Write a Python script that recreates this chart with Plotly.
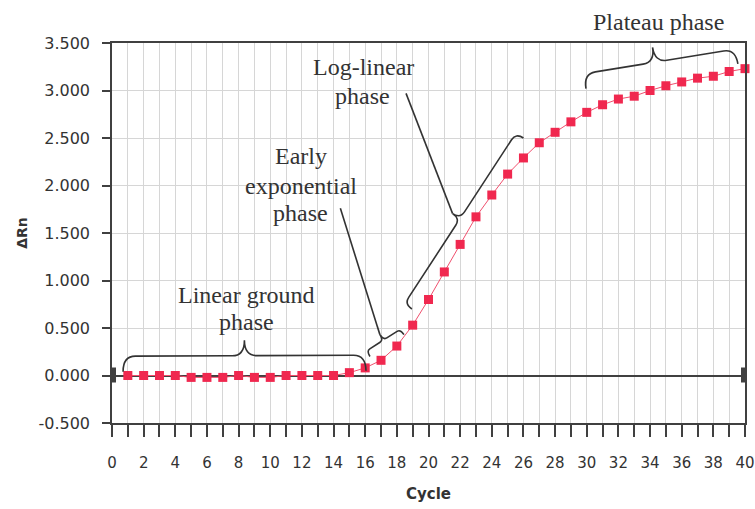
import math
import plotly.graph_objects as go

# qPCR amplification curve: normalised reporter signal per cycle
cycles = list(range(1, 41))
delta_rn = [0.00, 0.00, 0.00, 0.00, -0.02, -0.02, -0.02, 0.00, -0.02, -0.02,
            0.00, 0.00, 0.00, 0.00, 0.03, 0.08, 0.16, 0.31, 0.53, 0.80,
            1.09, 1.38, 1.67, 1.90, 2.12, 2.29, 2.45, 2.56, 2.67, 2.77,
            2.85, 2.91, 2.94, 3.00, 3.05, 3.09, 3.13, 3.15, 3.20, 3.23]

x_ticks = list(range(0, 41, 2))
y_ticks = [-0.5, 0.0, 0.5, 1.0, 1.5, 2.0, 2.5, 3.0, 3.5]

X_RANGE = (0, 40)
Y_RANGE = (-0.5, 3.5)

W, H = 755, 509
M_L, M_R, M_T, M_B = 112, 10, 43, 86
PLOT_W = W - M_L - M_R
PLOT_H = H - M_T - M_B


def to_px(x, y):
    px = M_L + (x - X_RANGE[0]) / (X_RANGE[1] - X_RANGE[0]) * PLOT_W
    py = M_T + PLOT_H - (y - Y_RANGE[0]) / (Y_RANGE[1] - Y_RANGE[0]) * PLOT_H
    return px, py


def to_data(px, py):
    x = X_RANGE[0] + (px - M_L) / PLOT_W * (X_RANGE[1] - X_RANGE[0])
    y = Y_RANGE[0] + (M_T + PLOT_H - py) / PLOT_H * (Y_RANGE[1] - Y_RANGE[0])
    return x, y


def brace(a, b, depth, t=0.5, r=None):
    """Curly brace from a to b (data coords), bulging to the left of a->b on screen.
    Returns (svg path in data coords, tip position in data coords)."""
    ax, ay = to_px(*a)
    bx, by = to_px(*b)
    dx, dy = bx - ax, by - ay
    length = math.hypot(dx, dy)
    ux, uy = dx / length, dy / length
    nx, ny = uy, -ux
    h = depth / 2.0
    if r is None:
        r = h * 0.8
    cx, cy = ax + dx * t, ay + dy * t

    def pt(x, y):
        X, Y = to_data(x, y)
        return f"{X:.4f},{Y:.4f}"

    q1 = (ax + nx * h, ay + ny * h)
    p1 = (q1[0] + ux * r, q1[1] + uy * r)
    q2 = (cx + nx * h, cy + ny * h)
    p2 = (q2[0] - ux * r, q2[1] - uy * r)
    tip = (cx + nx * depth, cy + ny * depth)
    p3 = (q2[0] + ux * r, q2[1] + uy * r)
    q3 = (bx + nx * h, by + ny * h)
    p4 = (q3[0] - ux * r, q3[1] - uy * r)
    path = (f"M {pt(ax, ay)} Q {pt(*q1)} {pt(*p1)} L {pt(*p2)} "
            f"Q {pt(*q2)} {pt(*tip)} Q {pt(*q2)} {pt(*p3)} L {pt(*p4)} "
            f"Q {pt(*q3)} {pt(bx, by)}")
    return path, to_data(*tip)


INK = "#333333"
AXIS = "#404040"
GRID = "#d6d6d6"
RED = "#f0284f"

fig = go.Figure()
fig.add_trace(go.Scatter(
    x=cycles, y=delta_rn, mode="lines+markers",
    line=dict(color="#f0506e", width=1),
    marker=dict(symbol="square", size=9, color=RED),
    cliponaxis=False, showlegend=False,
))

shapes = []

# phase braces
ground_path, ground_tip = brace((0.7, 0.04), (16.05, 0.05), depth=31)
early_path, early_tip = brace((16.3, 0.20), (18.45, 0.43), depth=13, r=4)
log_path, log_tip = brace((18.95, 0.70), (26.0, 2.50), depth=18, r=8)
plateau_path, plateau_tip = brace((29.95, 3.02), (39.55, 3.28), depth=30, t=0.47)

for p in (ground_path, early_path, log_path, plateau_path):
    shapes.append(dict(type="path", xref="x", yref="y", path=p,
                       line=dict(color=INK, width=1.6)))

# leader lines from labels to brace tips
shapes.append(dict(type="line", xref="x", yref="y", x0=14.43, y0=1.76,
                   x1=early_tip[0], y1=early_tip[1], line=dict(color=INK, width=1.6)))
shapes.append(dict(type="line", xref="x", yref="y", x0=18.58, y0=2.97,
                   x1=log_tip[0], y1=log_tip[1], line=dict(color=INK, width=1.6)))

# end caps on the baseline
shapes.append(dict(type="rect", xref="x", yref="y", xsizemode="pixel", ysizemode="pixel",
                   xanchor=0, yanchor=0, x0=0, x1=4, y0=-7, y1=8,
                   fillcolor=AXIS, line=dict(width=0)))
shapes.append(dict(type="rect", xref="x", yref="y", xsizemode="pixel", ysizemode="pixel",
                   xanchor=40, yanchor=0, x0=-4, x1=0, y0=-7, y1=8,
                   fillcolor=AXIS, line=dict(width=0)))

serif = dict(family="Liberation Serif, Times New Roman, serif", size=24, color=INK)


def label(text, x, y, yref="y"):
    return dict(text=text, x=x, y=y, xref="x", yref=yref, xanchor="center",
                yanchor="middle", showarrow=False, font=serif)


annotations = [
    label("Plateau phase", 34.55, 1.055, yref="paper"),
    label("Log-linear", 15.87, 3.25),
    label("phase", 15.80, 2.94),
    label("Early", 11.97, 2.31),
    label("exponential", 11.97, 2.00),
    label("phase", 11.90, 1.71),
    label("Linear ground", 8.50, 0.85),
    label("phase", 8.50, 0.56),
]

x_tick_font = dict(family="DejaVu Sans, Arial, sans-serif", size=15, color=INK)
y_tick_font = dict(family="DejaVu Sans, Arial, sans-serif", size=16, color=INK)
title_font = dict(family="DejaVu Sans, Arial, sans-serif", size=15, color=INK)

fig.update_layout(
    width=W, height=H,
    margin=dict(l=M_L, r=M_R, t=M_T, b=M_B, pad=0, autoexpand=False),
    paper_bgcolor="white", plot_bgcolor="white",
    shapes=shapes, annotations=annotations,
    xaxis=dict(
        range=list(X_RANGE), automargin=False,
        tickmode="array", tickvals=x_ticks,
        ticktext=[str(v) for v in x_ticks],
        ticklabeloverflow="allow",
        ticks="outside", ticklen=12, tickwidth=1.5, tickcolor=AXIS,
        ticklabelstandoff=13,
        showline=True, linecolor=AXIS, linewidth=1.5, mirror=True,
        showgrid=True, gridcolor=GRID, gridwidth=1, zeroline=False,
        minor=dict(dtick=1, tick0=0, ticks="outside", ticklen=12, tickwidth=1.5,
                   tickcolor=AXIS, showgrid=True, gridcolor=GRID, gridwidth=1),
        tickfont=x_tick_font,
        title=dict(text="<b>Cycle</b>", standoff=18, font=title_font),
    ),
    yaxis=dict(
        range=list(Y_RANGE), automargin=False,
        tickmode="array", tickvals=y_ticks,
        ticktext=[f"{v:.3f}" for v in y_ticks],
        ticks="outside", ticklen=8, tickwidth=1.5, tickcolor=AXIS,
        ticklabelstandoff=9,
        showline=True, linecolor=AXIS, linewidth=1.5, mirror=True,
        showgrid=True, gridcolor=GRID, gridwidth=1,
        zeroline=True, zerolinecolor=AXIS, zerolinewidth=2,
        tickfont=y_tick_font,
        title=dict(text="<b>ΔRn</b>", standoff=8, font=dict(title_font, size=14)),
    ),
)

fig.write_html("out.html")
